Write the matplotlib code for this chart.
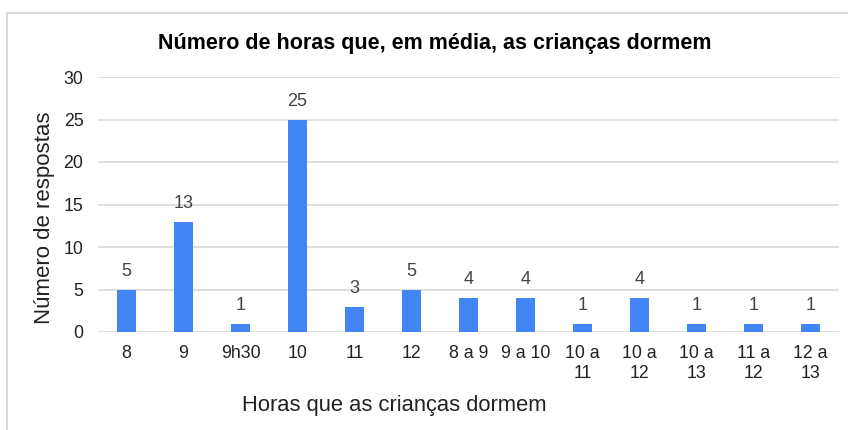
import matplotlib.pyplot as plt
from matplotlib.lines import Line2D

plt.rcParams['font.family'] = ['Liberation Sans', 'DejaVu Sans']

categorias = ['8', '9', '9h30', '10', '11', '12', '8 a 9', '9 a 10',
              '10 a\n11', '10 a\n12', '10 a\n13', '11 a\n12', '12 a\n13']
respostas = [5, 13, 1, 25, 3, 5, 4, 4, 1, 4, 1, 1, 1]

W, H = 848, 430
fig = plt.figure(figsize=(W / 100, H / 100), dpi=100)
ax = fig.add_axes([98 / W, 1 - 332 / H, (839 - 98) / W, (332 - 77) / H])

x = range(len(categorias))
bars = ax.bar(x, respostas, width=0.32, color='#4285f4', zorder=3)
for b, v in zip(bars, respostas):
    ax.annotate(str(v), (b.get_x() + b.get_width() / 2, v),
                xytext=(0, 7), textcoords='offset points',
                ha='center', va='bottom', fontsize=13, color='#444444')

ax.set_xlim(-0.5, len(categorias) - 0.5)
ax.set_ylim(0, 30)
ax.set_yticks(range(0, 31, 5))
ax.set_xticks(list(x))
ax.set_xticklabels(categorias, fontsize=12.8, color='#222222', linespacing=1.3, va='top')
ax.tick_params(axis='y', labelsize=12.8, labelcolor='#222222', length=0, pad=10.5)
ax.tick_params(axis='x', length=0, pad=9)
ax.grid(axis='y', color='#d9d9d9', linewidth=1.2, zorder=0)
for s in ax.spines.values():
    s.set_visible(False)

fig.text(435 / W, 1 - 43 / H, 'Número de horas que, em média, as crianças dormem',
         ha='center', va='center', fontsize=15.5, fontweight='bold', color='#000000')
fig.text(394 / W, 1 - 406 / H, 'Horas que as crianças dormem',
         ha='center', va='center', fontsize=15.8, color='#222222')
fig.text(45 / W, 1 - 218 / H, 'Número de respostas', rotation=90,
         ha='center', va='center', fontsize=16, color='#222222')

# moldura (so topo e esquerda visiveis)
fig.add_artist(Line2D([7 / W, 1], [1 - 12.5 / H] * 2, color='#d9d9d9', lw=1.5))
fig.add_artist(Line2D([7 / W] * 2, [0, 1 - 12.5 / H], color='#d9d9d9', lw=1.5))

fig.savefig('out.png', dpi=100)
